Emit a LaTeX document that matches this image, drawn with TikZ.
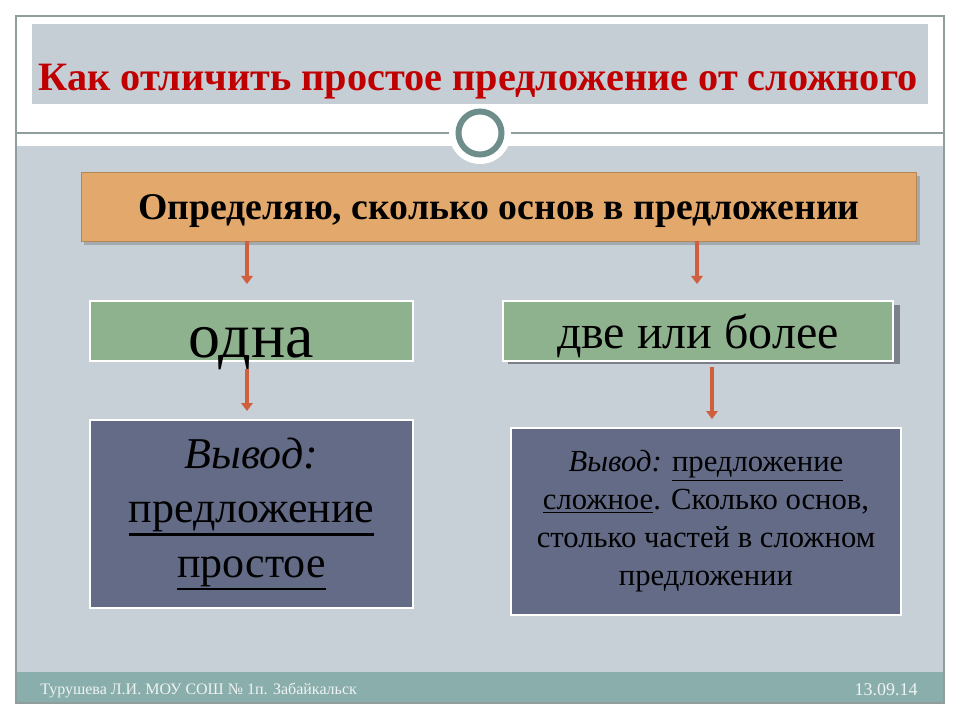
\documentclass[tikz,border=0pt]{standalone}
\usepackage{fontspec}
\setmainfont{Liberation Serif}
\usetikzlibrary{arrows.meta}
\definecolor{bgblue}{HTML}{C6D0D6}
\definecolor{titlebg}{HTML}{C5CED5}
\definecolor{titlered}{HTML}{C00000}
\definecolor{orangefill}{HTML}{E2A86C}
\definecolor{greenfill}{HTML}{8FB28E}
\definecolor{slatefill}{HTML}{646B87}
\definecolor{footerfill}{HTML}{8AAEAB}
\definecolor{arrowcol}{HTML}{CF5F3E}
\definecolor{framecol}{HTML}{8F9D9D}
\definecolor{ringcol}{HTML}{6E8E8B}
\definecolor{shadowgray}{HTML}{7C8088}
\definecolor{footertext}{HTML}{EEF3F3}
\newlength\pxu
\setlength\pxu{0.75pt}
\newcommand\thul[2][1.8pt]{\setbox0=\hbox{#2}\leavevmode\rlap{\rule[\dimexpr-\dp0-1pt-#1\relax]{\wd0}{#1}}\box0}
\tikzset{
  boxbase/.style={rectangle, inner sep=0pt, align=center},
  orangebox/.style={boxbase, fill=orangefill, draw=orangefill!80!black, line width=0.5pt},
  greenbox/.style={boxbase, fill=greenfill, draw=white, line width=1.5pt},
  slatebox/.style={boxbase, fill=slatefill, draw=white, line width=1.5pt},
  conn/.style={draw=arrowcol, line width=2.4pt, -{Triangle[width=8.5pt,length=6pt]}},
}
\begin{document}
\begin{tikzpicture}[x=0.75pt,y=-0.75pt]
\useasboundingbox (0,0) rectangle (960,720);
\fill[white] (0,0) rectangle (960,720);
% slide background
\fill[bgblue] (16,146) rectangle (944,672);
\fill[footerfill] (16,672) rectangle (944,703);
\draw[framecol, line width=1.2pt] (16,16) rectangle (944,703);
\draw[framecol, line width=1pt] (16,133) -- (944,133);
\fill[white] (480,133) circle (31);
\draw[ringcol, line width=4.5pt] (480,133) circle (21.5);
% title
\node[boxbase, fill=titlebg, minimum width=896\pxu, minimum height=80\pxu] (titlebox) at (480,64) {};
\node[anchor=base, text=titlered, font=\bfseries\fontsize{30.2}{35}\selectfont] (title) at (478,91)
  {Как отличить простое предложение от сложного};
% orange question box
\fill[black, opacity=0.18] (84,176) rectangle (920,245);
\node[orangebox, minimum width=835\pxu, minimum height=69\pxu] (q) at (499,206.5) {};
\node[anchor=base, font=\bfseries\fontsize{28.3}{33}\selectfont] (qtext) at (499,220)
  {Определяю, сколько основ в предложении};
% green boxes
\node[greenbox, minimum width=323\pxu, minimum height=60\pxu] (one) at (251.5,331) {};
\node[anchor=base, font=\fontsize{48}{56}\selectfont] (onetext) at (251,357) {одна};
\fill[shadowgray] (508,305) rectangle (900,364);
\node[greenbox, minimum width=390\pxu, minimum height=60\pxu] (two) at (698,331) {};
\node[anchor=base, font=\fontsize{36}{42}\selectfont] (twotext) at (698,349) {две или более};
% conclusion boxes
\node[slatebox, minimum width=323\pxu, minimum height=188\pxu,
  font=\fontsize{33}{41}\selectfont] (c1) at (251.5,514)
  {\textit{Вывод:}\\ \thul{предложение}\\ \thul{простое}};
\node[slatebox, minimum width=390\pxu, minimum height=187\pxu,
  font=\fontsize{23}{28.5}\selectfont] (c2) at (706,521.5)
  {\textit{Вывод:} \thul[1.3pt]{предложение}\\ \thul[1.3pt]{сложное}. Сколько основ,\\ столько частей в сложном\\ предложении};
% connectors
\draw[conn, shorten >=12pt] (q.south -| 247,0) -- (one.north -| 247,0);
\draw[conn, shorten >=12pt] (q.south -| 697,0) -- (two.north -| 697,0);
\draw[conn, shorten <=5pt, shorten >=6pt] (one.south -| 247,0) -- (c1.north -| 247,0);
\draw[conn, shorten <=4pt, shorten >=6pt] (two.south -| 712,0) -- (c2.north -| 712,0);
% footer
\node[anchor=base west, text=footertext, inner sep=0pt, font=\fontsize{12}{14}\selectfont] (author) at (40,694)
  {Турушева Л.И. МОУ СОШ № 1п. Забайкальск};
\node[anchor=base east, text=footertext, inner sep=0pt, font=\fontsize{13.5}{15}\selectfont] (date) at (918,695)
  {13.09.14};
\end{tikzpicture}
\end{document}
